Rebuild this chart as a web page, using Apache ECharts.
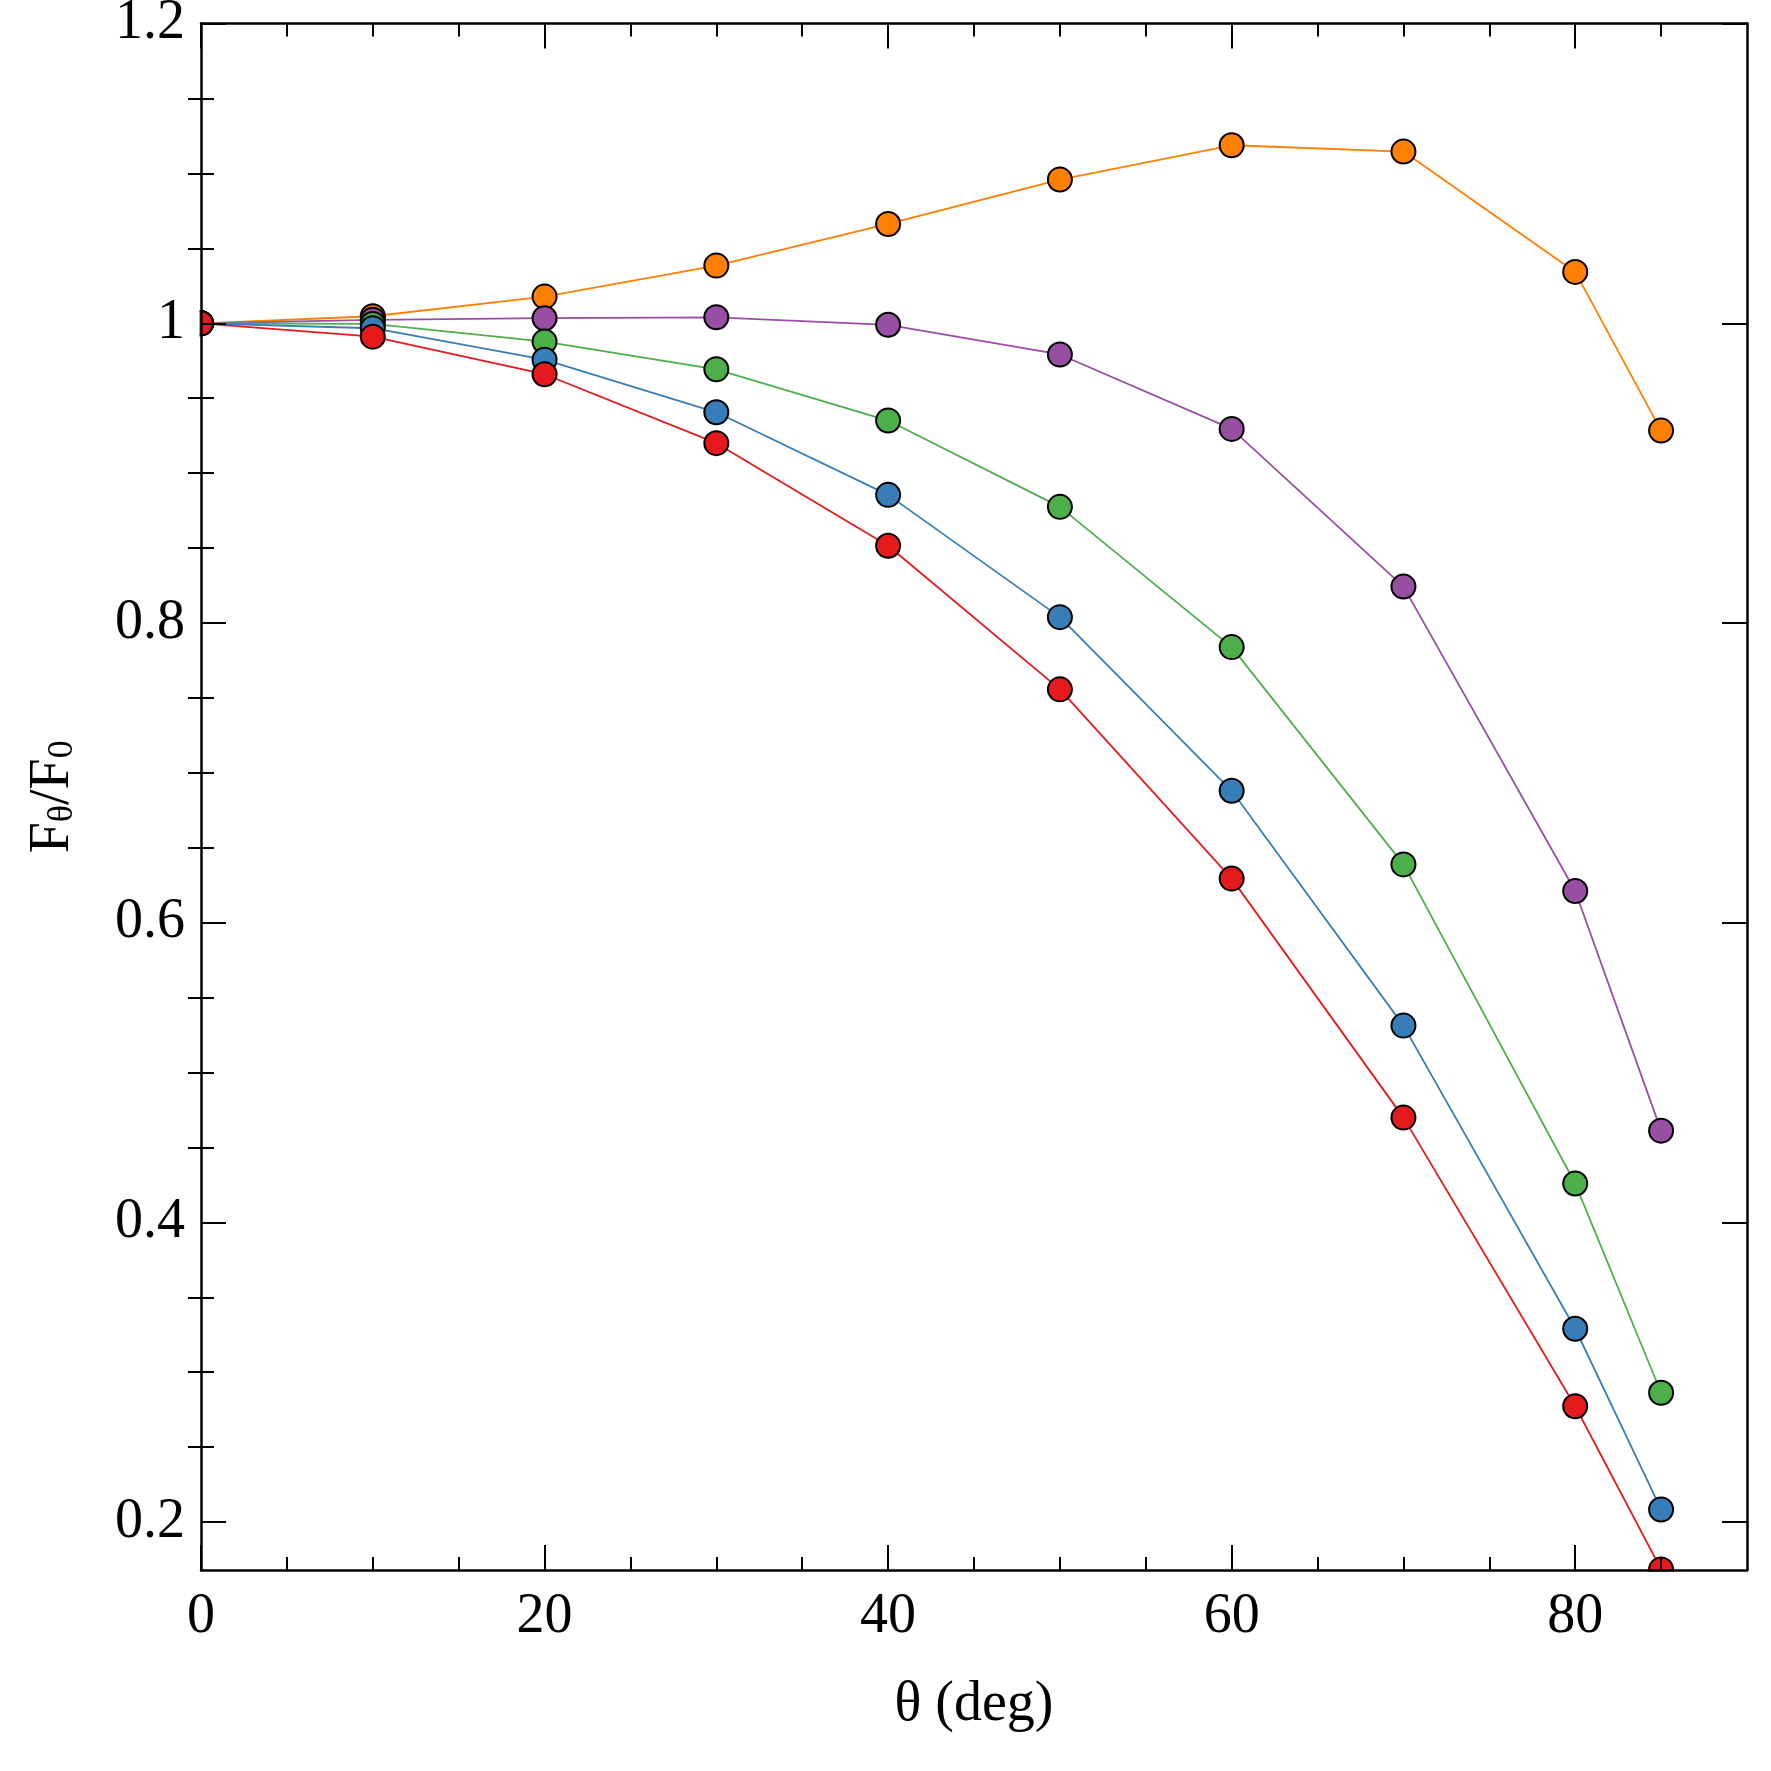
<!DOCTYPE html>
<html><head><meta charset="utf-8">
<script src="https://cdn.jsdelivr.net/npm/echarts@6/dist/echarts.min.js"></script>
<style>html,body{margin:0;padding:0;background:#fff}#c{width:1771px;height:1771px}</style>
</head><body><div id="c"></div>
<script>
const angles = [0, 10, 20, 30, 40, 50, 60, 70, 80, 85];
const orangeVals = [1.0, 1.0047, 1.0178, 1.0385, 1.0663, 1.0959, 1.1188, 1.1146, 1.0343, 0.9284];
const purpleVals = [1.0, 1.0023, 1.0034, 1.0040, 0.9990, 0.9792, 0.9295, 0.8243, 0.6211, 0.4612];
const greenVals  = [1.0, 0.9996, 0.9878, 0.9693, 0.9351, 0.8775, 0.7839, 0.6389, 0.4259, 0.2863];
const blueVals   = [1.0, 0.9967, 0.9757, 0.9406, 0.8855, 0.8039, 0.6880, 0.5313, 0.3290, 0.2084];
const redVals    = [1.0, 0.9911, 0.9660, 0.9200, 0.8515, 0.7557, 0.6294, 0.4699, 0.2773, 0.1684];
const xMajorTicks = [0, 20, 40, 60, 80];
const xMinorTicks = [5, 10, 15, 25, 30, 35, 45, 50, 55, 65, 70, 75, 85];
const yMajorTicks = [0.2, 0.4, 0.6, 0.8, 1.0, 1.2];
const yMinorTicks = [0.25, 0.3, 0.35, 0.45, 0.5, 0.55, 0.65, 0.7, 0.75, 0.85, 0.9, 0.95, 1.05, 1.1, 1.15];
const xTitle = 'θ (deg)';
const yTitle = '{a|F}{s|θ}{a|/F}{s|0}';

const FONT = 'Liberation Serif';
const X_MIN = 0, X_MAX = 90, Y_MIN = 0.168, Y_MAX = 1.2;
const G = {left: 201, right: 24, top: 23.6, bottom: 201};

function xAxisDef(pos, ticks, len, opts) {
  return Object.assign({
    type: 'value', position: pos, min: X_MIN, max: X_MAX, z: 5,
    splitLine: {show: false},
    axisLine: {show: true, onZero: false, lineStyle: {color: '#000', width: 2.5}},
    axisTick: {show: true, inside: true, length: len, customValues: ticks, lineStyle: {color: '#000', width: 2}},
    axisLabel: {show: false}
  }, opts || {});
}
function yAxisDef(pos, ticks, len, opts) {
  return Object.assign({
    type: 'value', position: pos, min: Y_MIN, max: Y_MAX, z: 5,
    splitLine: {show: false},
    axisLine: {show: true, onZero: false, lineStyle: {color: '#000', width: 2.5}},
    axisTick: {show: true, inside: true, length: len, customValues: ticks, lineStyle: {color: '#000', width: 2}},
    axisLabel: {show: false}
  }, opts || {});
}

const seriesDefs = [
  {name: 'orange', color: '#ff7f00', data: orangeVals},
  {name: 'purple', color: '#984ea3', data: purpleVals},
  {name: 'green',  color: '#4daf4a', data: greenVals},
  {name: 'blue',   color: '#377eb8', data: blueVals},
  {name: 'red',    color: '#e41a1c', data: redVals}
];

const chart = echarts.init(document.getElementById('c'), null, {renderer: 'canvas'});
const W = 1771, H = 1771;
const plotL = G.left, plotR = W - G.right, plotT = G.top, plotB = H - G.bottom;

chart.setOption({
  animation: false,
  backgroundColor: '#fff',
  grid: Object.assign({outerBoundsMode: 'none', containLabel: false}, G),
  xAxis: [
    xAxisDef('bottom', xMajorTicks, 25, {
      name: xTitle, nameLocation: 'middle', nameGap: 107,
      nameTextStyle: {fontFamily: FONT, fontSize: 56, color: '#000'},
      axisLabel: {show: true, customValues: xMajorTicks, margin: 19, fontFamily: FONT, fontSize: 56, color: '#000'}
    }),
    xAxisDef('bottom', xMinorTicks, 13, {axisLine: {show: false}}),
    xAxisDef('top', xMajorTicks, 25),
    xAxisDef('top', xMinorTicks, 13, {axisLine: {show: false}})
  ],
  yAxis: [
    yAxisDef('left', yMajorTicks, 25, {
      name: yTitle, nameLocation: 'middle', nameGap: 120, nameRotate: 90,
      nameTextStyle: {
        fontFamily: FONT, color: '#000',
        rich: {
          a: {fontFamily: FONT, fontSize: 56, color: '#000'},
          s: {fontFamily: FONT, fontSize: 36, lineHeight: 26, color: '#000', verticalAlign: 'bottom'}
        }
      },
      axisLabel: {show: true, customValues: yMajorTicks, margin: 16, fontFamily: FONT, fontSize: 56, color: '#000',
        formatter: v => String(Math.round(v * 10) / 10)}
    }),
    yAxisDef('left', yMinorTicks, 13, {axisLine: {show: false}}),
    yAxisDef('right', yMajorTicks, 25),
    yAxisDef('right', yMinorTicks, 13, {axisLine: {show: false}})
  ],
  series: seriesDefs.map(s => ({
    name: s.name, type: 'line', xAxisIndex: 0, yAxisIndex: 0,
    data: angles.map((a, i) => [a, s.data[i]]),
    symbol: 'circle', symbolSize: 24, showSymbol: true, clip: true,
    lineStyle: {color: s.color, width: 1.8},
    itemStyle: {color: s.color, borderColor: '#000', borderWidth: 2},
    z: 2
  })),
  graphic: [
    {type: 'rect', z: 4, silent: true, shape: {x: plotL - 15, y: plotT, width: 13.5, height: plotB - plotT}, style: {fill: '#fff'}},
    {type: 'rect', z: 4, silent: true, shape: {x: plotL, y: plotB + 1.5, width: plotR - plotL, height: 18}, style: {fill: '#fff'}}
  ]
});
</script></body></html>
